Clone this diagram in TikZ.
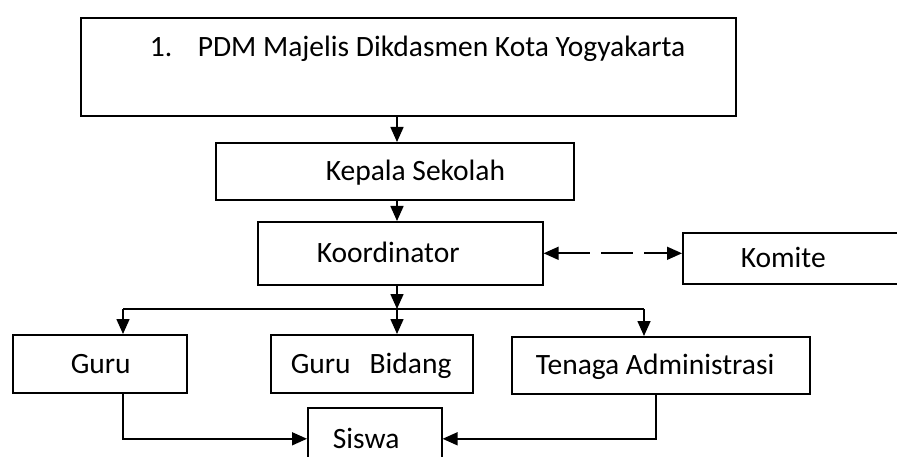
\documentclass[tikz,border=0pt]{standalone}
\usepackage{fontspec}
\setmainfont{Carlito}
\usetikzlibrary{arrows.meta}
\newcommand{\isikotak}[3]{\makebox[#1][l]{\hspace*{#2}#3}}

\begin{document}
\begin{tikzpicture}[x=1pt,y=-1pt,
        kotak/.style={draw,line width=1.6pt,inner sep=0pt,anchor=north west,text height=19pt,text depth=0pt,font=\fontsize{29.5}{35}\selectfont},
        garis/.style={line width=1.6pt},
        panah/.style={garis,-{Triangle[length=15pt,width=13pt]}},
        duapanah/.style={garis,{Triangle[length=15pt,width=13pt]}-{Triangle[length=15pt,width=13pt]},dash pattern=on 32pt off 11pt}]
            \useasboundingbox (0,0) rectangle (897,457);
            \clip (0,0) rectangle (897,457);
            \node[kotak,minimum height=98pt,text height=19pt,text depth=39pt] (pdm) at (80,17)
                {\isikotak{655pt}{69pt}{\makebox[48pt][l]{1.}PDM Majelis Dikdasmen Kota Yogyakarta}};
            \node[kotak,minimum height=57pt] (kepala) at (215,142) {\isikotak{358pt}{110pt}{Kepala Sekolah}};
            \node[kotak,minimum height=63pt] (koordinator) at (257,221) {\isikotak{285pt}{59pt}{Koordinator}};
            \node[kotak,minimum height=51pt] (komite) at (682,232) {\isikotak{230pt}{58pt}{Komite}};
            \node[kotak,minimum height=58pt] (guru) at (12,334) {\isikotak{174pt}{58pt}{Guru}};
            \node[kotak,minimum height=58pt] (bidang) at (270,334) {\isikotak{202pt}{20pt}{Guru\hspace{19pt}Bidang}};
            \node[kotak,minimum height=57pt] (tenaga) at (511,336) {\isikotak{298pt}{24pt}{Tenaga Administrasi}};
            \node[kotak,minimum height=62pt] (siswa) at (307,407) {\isikotak{134pt}{25pt}{Siswa}};
            \coordinate (sumbu) at (397,309);
            \coordinate (kiri) at (123,309);
            \coordinate (kanan) at (644,309);
            \coordinate (keluarta) at (656,309);
            \draw[panah] (pdm.south -| sumbu) -- (kepala.north -| sumbu);
            \draw[panah] (kepala.south -| sumbu) -- (koordinator.north -| sumbu);
            \draw[panah] (koordinator.south -| sumbu) -- (sumbu);
            \draw[duapanah] (koordinator.east) -- (koordinator.east -| komite.west);
            \draw[garis] (kiri) -- (kanan);
            \draw[panah] (kiri) -- (kiri |- guru.north);
            \draw[panah] (sumbu) -- (sumbu |- bidang.north);
            \draw[panah] (kanan) -- (kanan |- tenaga.north);
            \draw[panah] (kiri |- guru.south) |- (siswa.west);
            \draw[panah] (keluarta |- tenaga.south) |- (siswa.east);
\end{tikzpicture}
\end{document}
